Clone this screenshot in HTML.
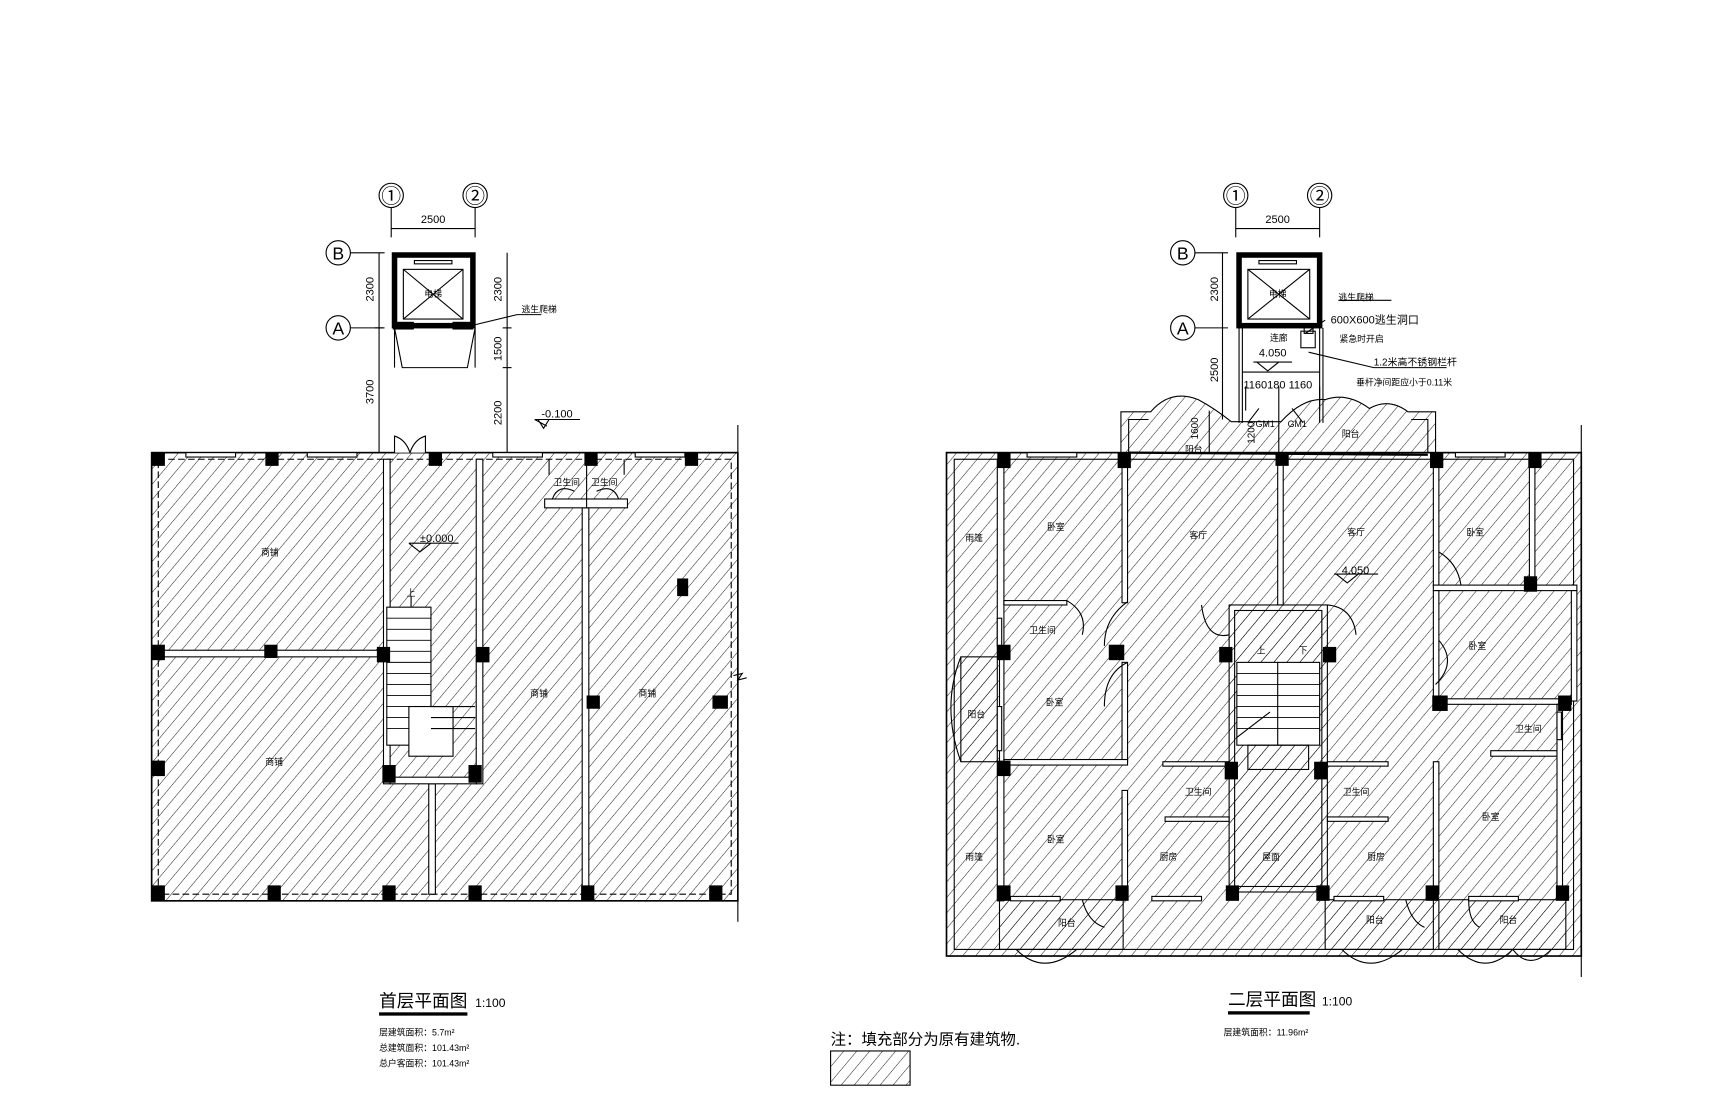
<!DOCTYPE html>
<html><head><meta charset="utf-8"><style>
html,body{margin:0;padding:0;background:#fff;}
svg{display:block;}
text{font-family:"Liberation Sans","Noto Sans CJK SC",sans-serif;fill:#000;}
</style></head><body>
<svg width="1723" height="1115" viewBox="0 0 1560 1010" xmlns="http://www.w3.org/2000/svg">
<defs>
<pattern id="h" width="9" height="9" patternUnits="userSpaceOnUse" patternTransform="rotate(40)">
<line x1="0" y1="0" x2="0" y2="9" stroke="#000" stroke-width="0.8"/>
</pattern>
</defs>
<g fill="none" stroke="#000" stroke-width="1">

<!-- ================= LEFT PLAN ================= -->
<rect x="137" y="410" width="531" height="406" fill="url(#h)" stroke-width="1.5"/>
<rect x="143" y="416" width="519" height="394" stroke-dasharray="6,3"/>
<line x1="668" y1="385" x2="668" y2="835"/>
<path d="M664 612 L672 610 L668 616 L676 614"/>
<rect x="347" y="416" width="6" height="294" fill="#fff"/>
<rect x="431" y="416" width="6" height="294" fill="#fff"/>
<rect x="143" y="589" width="204" height="6" fill="#fff"/>
<rect x="388" y="710" width="6" height="100" fill="#fff"/>
<rect x="527" y="460" width="6" height="350" fill="#fff"/>
<rect x="353" y="704" width="78" height="6" fill="#fff"/>
<rect x="350" y="550" width="40" height="125" fill="#fff"/>
<g stroke-width="0.8">
<line x1="350" y1="560" x2="390" y2="560"/><line x1="350" y1="570" x2="390" y2="570"/><line x1="350" y1="580" x2="390" y2="580"/><line x1="350" y1="590" x2="390" y2="590"/><line x1="350" y1="600" x2="390" y2="600"/><line x1="350" y1="610" x2="390" y2="610"/><line x1="350" y1="620" x2="390" y2="620"/><line x1="350" y1="630" x2="390" y2="630"/><line x1="350" y1="640" x2="390" y2="640"/><line x1="350" y1="650" x2="390" y2="650"/><line x1="350" y1="660" x2="390" y2="660"/>
</g>
<rect x="370" y="640" width="40" height="45" fill="#fff"/>
<line x1="390" y1="640" x2="430" y2="640"/><line x1="390" y1="650" x2="430" y2="650"/><line x1="390" y1="660" x2="430" y2="660"/>
<line x1="372" y1="540" x2="372" y2="550"/>
<rect x="493" y="452" width="75" height="8" fill="#fff"/>
<line x1="531" y1="410" x2="531" y2="460"/>
<path d="M497 416 V430 M565 416 V430 M500 452 Q505 438 520 445 M560 452 Q555 438 540 445"/>
<rect x="168" y="410" width="45" height="4" fill="#fff"/><rect x="278" y="410" width="45" height="4" fill="#fff"/>
<rect x="446" y="410" width="45" height="4" fill="#fff"/><rect x="575" y="410" width="45" height="4" fill="#fff"/>
<path d="M357 410 V395 Q367 398 371 410 M385 410 V395 Q375 398 371 410" fill="#fff"/>
<rect x="357" y="231" width="71" height="64" stroke-width="5"/>
<rect x="365" y="244" width="54" height="45"/>
<path d="M365 244 L419 289 M419 244 L365 289"/>
<rect x="375" y="236" width="34" height="3"/>
<rect x="356" y="292" width="18" height="6" fill="#000"/><rect x="410" y="292" width="18" height="6" fill="#000"/>
<path d="M357 297 L364 333 L423 333 L430 297 M357 297 V333 M430 297 V333"/>
<path d="M418 297 L468 285 L490 285"/>
<circle cx="354" cy="177" r="11"/><circle cx="430" cy="177" r="11"/>
<circle cx="306" cy="229" r="11"/><circle cx="306" cy="297" r="11"/>
<line x1="354" y1="188" x2="354" y2="215"/><line x1="430" y1="188" x2="430" y2="215"/>
<line x1="354" y1="207" x2="430" y2="207"/>
<line x1="317" y1="229" x2="348" y2="229"/><line x1="317" y1="297" x2="348" y2="297"/>
<line x1="343" y1="229" x2="343" y2="410"/>
<line x1="459" y1="229" x2="459" y2="410"/>
<line x1="339" y1="297" x2="347" y2="297"/>
<line x1="455" y1="297" x2="463" y2="297"/><line x1="455" y1="333" x2="463" y2="333"/>
<path d="M484 380 L495 386 L484 380 L497 380 M487 380 L492 388 L497 380 M492 380 H525"/>
<path d="M370 492 L380 500 L390 492 M370 492 H415"/>

<!-- ================= RIGHT PLAN ================= -->
<rect x="857" y="410" width="575" height="456" fill="url(#h)" stroke-width="1.5"/>
<rect x="864" y="416" width="561" height="444"/>
<line x1="1432" y1="385" x2="1432" y2="885"/>
<path d="M1015 410 V373 H1042 Q1060 352 1085 362 Q1100 370 1115 382 L1160 382 Q1180 360 1200 362 Q1220 355 1240 370 Q1258 360 1275 373 H1300 V410" fill="url(#h)"/>
<path d="M1022 410 V380 H1040 M1293 410 V380 H1278"/>
<line x1="1022" y1="410" x2="1293" y2="412" stroke-width="2"/>
<rect x="1122" y="231" width="73" height="64" stroke-width="5"/>
<rect x="1130" y="244" width="56" height="45"/>
<path d="M1130 244 L1186 289 M1186 244 L1130 289"/>
<rect x="1140" y="236" width="34" height="3"/>
<path d="M1122 297 V383 M1125 297 V383 M1195 297 V383 M1198 297 V383"/>
<rect x="1181" y="296" width="8" height="6"/><rect x="1178" y="300" width="13" height="15"/>
<line x1="1125" y1="337" x2="1195" y2="337"/>
<path d="M1128 350 V372 M1195 350 V372"/>
<path d="M1130 383 L1140 370 M1180 383 L1170 370 M1158 350 V410"/>
<path d="M1185 319 L1244 333 L1310 333 M1182 302 L1200 290 M1212 272 L1260 272"/>
<path d="M1138 328 L1148 336 L1158 328 M1135 328 H1170"/>
<path d="M1210 520 L1220 528 L1230 520 M1208 520 H1248"/>
<circle cx="1119" cy="177" r="11"/><circle cx="1195" cy="177" r="11"/>
<circle cx="1071" cy="229" r="11"/><circle cx="1071" cy="297" r="11"/>
<line x1="1119" y1="188" x2="1119" y2="215"/><line x1="1195" y1="188" x2="1195" y2="215"/>
<line x1="1119" y1="207" x2="1195" y2="207"/>
<line x1="1082" y1="229" x2="1112" y2="229"/><line x1="1082" y1="297" x2="1112" y2="297"/>
<line x1="1107" y1="229" x2="1107" y2="380"/>
<line x1="1095" y1="372" x2="1095" y2="410"/>
<g fill="#fff">
<rect x="903" y="416" width="6" height="400"/>
<rect x="1016" y="416" width="5" height="130"/>
<rect x="1157" y="416" width="5" height="132"/>
<rect x="1298" y="416" width="5" height="115"/>
<rect x="1385" y="416" width="5" height="115"/>
<rect x="909" y="544" width="57" height="4"/>
<rect x="1298" y="530" width="130" height="5"/>
<rect x="1298" y="535" width="5" height="100"/>
<rect x="1423" y="535" width="5" height="100"/>
<rect x="1016" y="600" width="5" height="90"/>
<rect x="909" y="688" width="112" height="5"/>
<rect x="1016" y="716" width="5" height="95"/>
<rect x="1053" y="690" width="60" height="4"/>
<rect x="1055" y="740" width="58" height="4"/>
<rect x="1202" y="690" width="55" height="4"/>
<rect x="1202" y="740" width="55" height="4"/>
<rect x="1298" y="690" width="5" height="120"/>
<rect x="1350" y="680" width="60" height="5"/>
<rect x="1303" y="633" width="120" height="5"/>
<rect x="1410" y="638" width="5" height="175"/>
</g>
<g fill="url(#h)">
<rect x="1113" y="548" width="89" height="260"/>
<rect x="870" y="595" width="35" height="95"/>
<rect x="905" y="815" width="112" height="45"/>
<rect x="1200" y="815" width="98" height="45"/>
<rect x="1303" y="815" width="115" height="45"/>
</g>
<rect x="1118" y="553" width="79" height="250"/>
<path d="M870 595 Q852 640 870 690"/>
<path d="M920 860 Q945 885 975 860 M1215 860 Q1240 885 1270 860 M1320 860 Q1345 885 1370 860 M1370 860 Q1385 880 1405 860"/>
<rect x="1120" y="600" width="75" height="75" fill="#fff"/>
<g stroke-width="0.8">
<line x1="1120" y1="610" x2="1195" y2="610"/><line x1="1120" y1="620" x2="1195" y2="620"/><line x1="1120" y1="630" x2="1195" y2="630"/><line x1="1120" y1="640" x2="1195" y2="640"/><line x1="1120" y1="650" x2="1195" y2="650"/><line x1="1120" y1="660" x2="1195" y2="660"/>
</g>
<line x1="1157" y1="600" x2="1157" y2="675"/>
<path d="M1120 668 L1150 645"/>
<rect x="1130" y="675" width="55" height="22"/>
<path d="M1088 548 Q1092 580 1113 575 M1202 548 Q1225 550 1228 575"/>
<path d="M1021 545 Q1000 560 1000 585 M1021 600 Q1000 610 1000 640"/>
<path d="M966 544 Q985 555 980 575 M1303 500 Q1320 510 1323 530 M1303 580 Q1320 600 1300 620"/>
<path d="M980 815 Q985 835 1000 840 M1273 815 Q1278 835 1290 840 M1330 815 Q1330 835 1340 840"/>
<g fill="#fff">
<rect x="930" y="410" width="45" height="4"/><rect x="1318" y="410" width="45" height="4"/>
<rect x="915" y="812" width="45" height="4"/><rect x="1043" y="812" width="45" height="4"/>
<rect x="1208" y="812" width="45" height="4"/><rect x="1330" y="812" width="45" height="4"/>
<rect x="903" y="640" width="4" height="40"/><rect x="1410" y="645" width="4" height="25"/>
<rect x="903" y="560" width="4" height="25"/>
</g>
</g>

<g fill="#000">
<rect x="137" y="410" width="12" height="12"/><rect x="240" y="410" width="12" height="12"/><rect x="388" y="410" width="12" height="12"/><rect x="529" y="410" width="12" height="12"/><rect x="620" y="410" width="12" height="12"/>
<rect x="137" y="584" width="12" height="14"/><rect x="239" y="584" width="12" height="12"/><rect x="341" y="586" width="12" height="14"/><rect x="431" y="586" width="12" height="14"/>
<rect x="613" y="524" width="10" height="16"/><rect x="531" y="630" width="12" height="12"/><rect x="645" y="630" width="14" height="12"/>
<rect x="137" y="689" width="12" height="14"/><rect x="346" y="693" width="12" height="16"/><rect x="424" y="693" width="12" height="16"/>
<rect x="137" y="802" width="12" height="14"/><rect x="242" y="802" width="12" height="14"/><rect x="346" y="802" width="12" height="14"/><rect x="424" y="802" width="12" height="14"/><rect x="526" y="802" width="12" height="14"/><rect x="642" y="802" width="12" height="14"/>

<rect x="903" y="410" width="12" height="14"/><rect x="1012" y="410" width="12" height="14"/><rect x="1155" y="410" width="12" height="12"/><rect x="1295" y="410" width="12" height="14"/><rect x="1384" y="410" width="12" height="14"/>
<rect x="1380" y="522" width="12" height="14"/>
<rect x="903" y="584" width="12" height="14"/><rect x="1004" y="584" width="14" height="14"/><rect x="1104" y="586" width="12" height="14"/><rect x="1198" y="586" width="12" height="14"/>
<rect x="1297" y="630" width="14" height="14"/><rect x="1411" y="630" width="12" height="14"/>
<rect x="903" y="689" width="12" height="14"/><rect x="1109" y="690" width="12" height="16"/><rect x="1190" y="690" width="12" height="16"/>
<rect x="903" y="802" width="12" height="14"/><rect x="1010" y="802" width="12" height="14"/><rect x="1110" y="802" width="12" height="14"/><rect x="1192" y="802" width="12" height="14"/><rect x="1291" y="802" width="12" height="14"/><rect x="1409" y="802" width="12" height="14"/>
</g>

<g font-size="9">
<text x="354" y="184" text-anchor="middle" font-size="18">①</text>
<text x="430" y="184" text-anchor="middle" font-size="18">②</text>
<text x="306" y="235" text-anchor="middle" font-size="16">B</text>
<text x="306" y="303" text-anchor="middle" font-size="16">A</text>
<text x="392" y="202" text-anchor="middle" font-size="10">2500</text>
<text transform="translate(338,262) rotate(-90)" text-anchor="middle" font-size="10">2300</text>
<text transform="translate(338,355) rotate(-90)" text-anchor="middle" font-size="10">3700</text>
<text transform="translate(454,262) rotate(-90)" text-anchor="middle" font-size="10">2300</text>
<text transform="translate(454,316) rotate(-90)" text-anchor="middle" font-size="10">1500</text>
<text transform="translate(454,374) rotate(-90)" text-anchor="middle" font-size="10">2200</text>
<text x="384" y="269" font-size="8">电梯</text>
<text x="472" y="283" font-size="8">逃生爬梯</text>
<text x="490" y="378" font-size="10">-0.100</text>
<text x="380" y="491" font-size="10">±0.000</text>
<text x="236" y="503" font-size="8">商铺</text><text x="240" y="693" font-size="8">商铺</text>
<text x="480" y="631" font-size="8">商铺</text><text x="578" y="631" font-size="8">商铺</text>
<text x="501" y="440" font-size="8">卫生间</text><text x="535" y="440" font-size="8">卫生间</text>
<text x="368" y="540" font-size="8">上</text>

<text x="1119" y="184" text-anchor="middle" font-size="18">①</text>
<text x="1195" y="184" text-anchor="middle" font-size="18">②</text>
<text x="1071" y="235" text-anchor="middle" font-size="16">B</text>
<text x="1071" y="303" text-anchor="middle" font-size="16">A</text>
<text x="1157" y="202" text-anchor="middle" font-size="10">2500</text>
<text transform="translate(1103,262) rotate(-90)" text-anchor="middle" font-size="10">2300</text>
<text transform="translate(1103,335) rotate(-90)" text-anchor="middle" font-size="10">2500</text>
<text transform="translate(1085,388) rotate(-90)" text-anchor="middle" font-size="9">1600</text>
<text transform="translate(1136,392) rotate(-90)" text-anchor="middle" font-size="9">1200</text>
<text x="1149" y="269" font-size="8">电梯</text>
<text x="1212" y="272" font-size="8">逃生爬梯</text>
<text x="1205" y="293" font-size="10">600X600逃生洞口</text>
<text x="1213" y="310" font-size="8">紧急时开启</text>
<text x="1150" y="309" font-size="8">连廊</text>
<text x="1140" y="323" font-size="10">4.050</text>
<text x="1244" y="331" font-size="9">1.2米高不锈钢栏杆</text>
<text x="1228" y="349" font-size="8">垂杆净间距应小于0.11米</text>
<text x="1126" y="352" font-size="10">1160180 1160</text>
<text x="1137" y="387" font-size="8">GM1</text><text x="1166" y="387" font-size="8">GM1</text>
<text x="1215" y="396" font-size="8">阳台</text><text x="1073" y="410" font-size="8">阳台</text>
<text x="1215" y="520" font-size="10">4.050</text>
<text x="948" y="480" font-size="8">卧室</text><text x="1077" y="488" font-size="8">客厅</text><text x="1220" y="485" font-size="8">客厅</text>
<text x="1328" y="485" font-size="8">卧室</text><text x="1330" y="588" font-size="8">卧室</text>
<text x="874" y="490" font-size="8">雨篷</text><text x="874" y="779" font-size="8">雨篷</text>
<text x="932" y="574" font-size="8">卫生间</text><text x="1372" y="663" font-size="8">卫生间</text>
<text x="1073" y="720" font-size="8">卫生间</text><text x="1216" y="720" font-size="8">卫生间</text>
<text x="876" y="650" font-size="8">阳台</text><text x="947" y="639" font-size="8">卧室</text>
<text x="948" y="763" font-size="8">卧室</text><text x="1342" y="743" font-size="8">卧室</text>
<text x="1050" y="779" font-size="8">厨房</text><text x="1143" y="779" font-size="8">屋面</text><text x="1238" y="779" font-size="8">厨房</text>
<text x="958" y="839" font-size="8">阳台</text><text x="1237" y="836" font-size="8">阳台</text><text x="1358" y="836" font-size="8">阳台</text>
<text x="1138" y="592" font-size="8">上</text><text x="1176" y="592" font-size="8">下</text>

<text x="343" y="912" font-size="16">首层平面图</text>
<text x="430" y="912" font-size="11">1:100</text>
<rect x="343" y="917" width="80" height="3" fill="#000"/>
<text x="343" y="938" font-size="8">层建筑面积：5.7m²</text>
<text x="343" y="952" font-size="8">总建筑面积：101.43m²</text>
<text x="343" y="966" font-size="8">总户客面积：101.43m²</text>
<text x="1112" y="911" font-size="16">二层平面图</text>
<text x="1197" y="911" font-size="11">1:100</text>
<rect x="1112" y="916" width="74" height="3" fill="#000"/>
<text x="1108" y="938" font-size="8">层建筑面积：11.96m²</text>
<text x="752" y="946" font-size="14">注：填充部分为原有建筑物.</text>
</g>
<rect x="752" y="952" width="72" height="31" fill="url(#h)" stroke="#000" stroke-width="1"/>
</svg>
</body></html>
